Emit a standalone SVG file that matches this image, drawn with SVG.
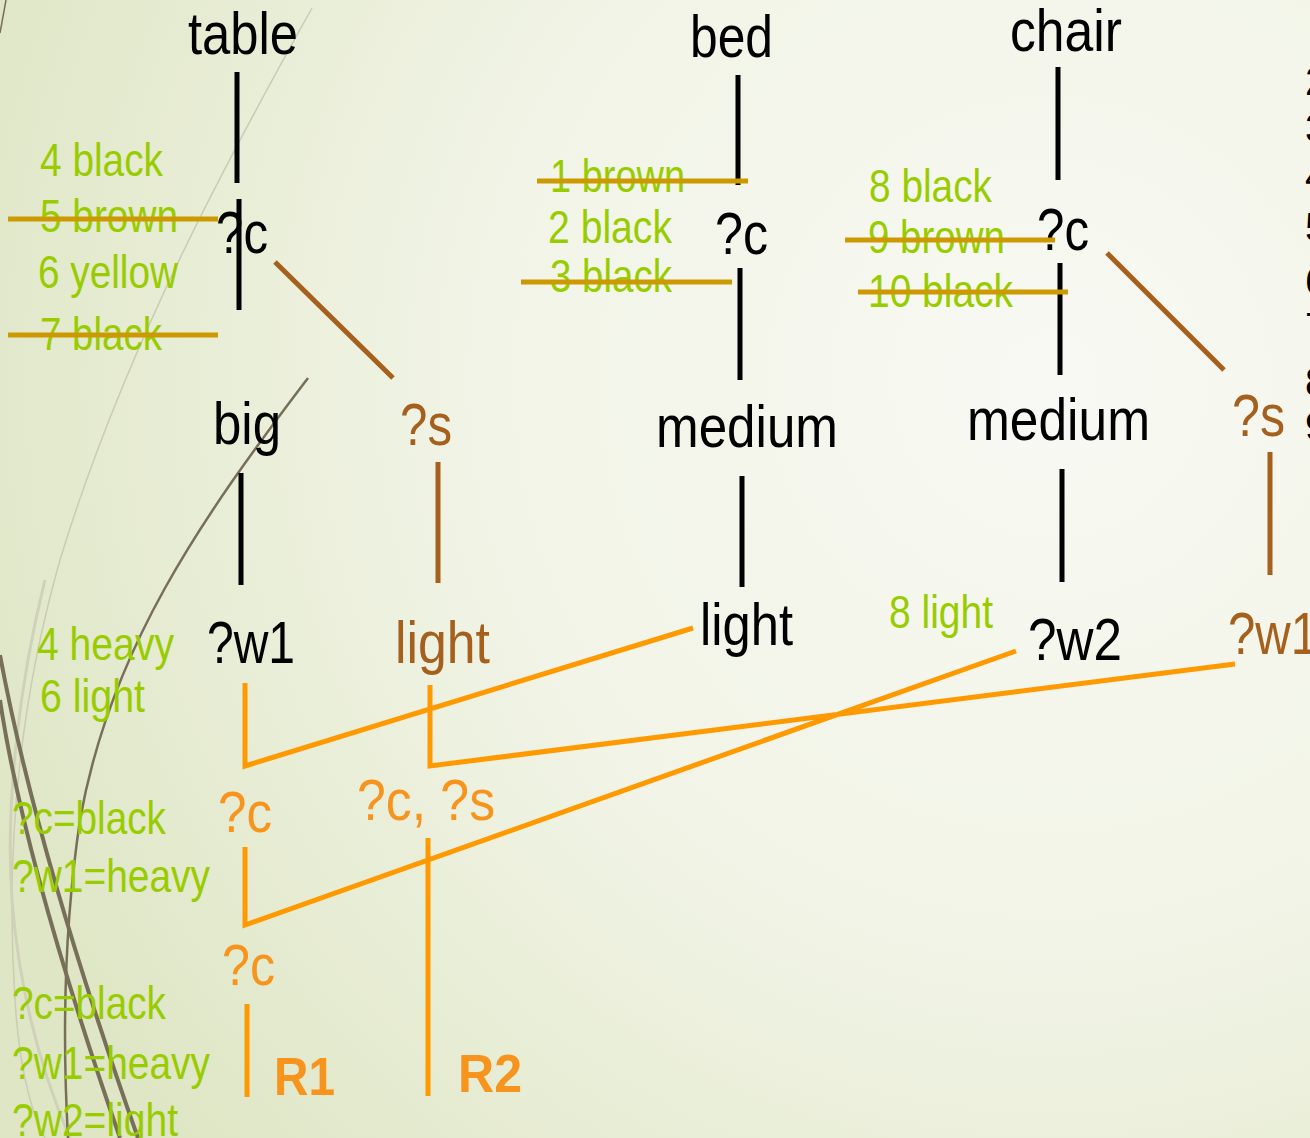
<svg xmlns="http://www.w3.org/2000/svg" width="1310" height="1138" viewBox="0 0 1310 1138">
<defs>
<radialGradient id="bg" cx="1050" cy="380" r="1150" gradientUnits="userSpaceOnUse">
<stop offset="0" stop-color="#f8f9f3"/>
<stop offset="0.5" stop-color="#f1f4e6"/>
<stop offset="1" stop-color="#dfe6c5"/>
</radialGradient>
<style>
text{font-family:"Liberation Sans",Arial,sans-serif}
.k{font-size:60px;fill:#000}
.b{font-size:60px;fill:#a5601d}
.g{font-size:46px;fill:#99cc00}
.o{font-size:58px;fill:#f7941d}
.r{font-size:54px;font-weight:bold;fill:#f7941d}
.lk{stroke:#000;stroke-width:5;fill:none}
.lb{stroke:#a5601d;stroke-width:5;fill:none}
.lo{stroke:#ff9900;stroke-width:5;fill:none}
.ls{stroke:#cc9900;stroke-width:5;fill:none}
.deco{fill:none;stroke:#776f58}
</style>
</defs>
<rect width="1310" height="1138" fill="url(#bg)"/>
<g id="decoration">
<path d="M312,8 C250,120 130,330 60,560 C20,700 5,850 15,1000 C20,1080 35,1120 45,1138" stroke="#cccbb6" stroke-width="1.5" fill="none"/>
<path d="M45,580 C20,680 5,800 12,900 C20,1000 45,1080 70,1138" stroke="#cfd2b8" stroke-width="3" fill="none"/>
<path d="M0,33 L6,0" class="deco" stroke-width="1.5"/>
<path d="M308,378 C200,520 110,650 80,820 C65,920 62,1030 68,1138" class="deco" stroke-width="2.5"/>
<path d="M0,655 C25,790 75,960 138,1138" class="deco" stroke-width="4"/>
<path d="M0,700 C18,820 65,980 120,1138" class="deco" stroke-width="4"/>
</g>
<g id="connectors">
<path class="lk" d="M237,72V183M239,199V310M738,75V185M740,268V380M1058,67V180M1060,263V375M241,473V585M742,476V587M1062,469V582"/>
<path class="lb" d="M275,262L393,378M438,462V583M1107,253L1224,370M1270,452V575"/>
<path class="lo" d="M245,683V766L693,628M430,685V766L1235,664M245,847V925L1016,651M247,1004V1097M428,838V1096"/>
</g>
<g id="node-table"><text class="k" x="188" y="54" textLength="110" lengthAdjust="spacingAndGlyphs">table</text></g>
<g id="node-bed"><text class="k" x="690" y="57" textLength="83" lengthAdjust="spacingAndGlyphs">bed</text></g>
<g id="node-chair"><text class="k" x="1010" y="51" textLength="112" lengthAdjust="spacingAndGlyphs">chair</text></g>
<g id="node-table-c"><text class="k" x="216" y="253" textLength="52" lengthAdjust="spacingAndGlyphs">?c</text></g>
<g id="node-bed-c"><text class="k" x="715" y="254" textLength="53" lengthAdjust="spacingAndGlyphs">?c</text></g>
<g id="node-chair-c"><text class="k" x="1037" y="250" textLength="52" lengthAdjust="spacingAndGlyphs">?c</text></g>
<g id="node-big"><text class="k" x="213" y="444" textLength="68" lengthAdjust="spacingAndGlyphs">big</text></g>
<g id="node-table-s"><text class="b" x="400" y="445" textLength="52" lengthAdjust="spacingAndGlyphs">?s</text></g>
<g id="node-bed-medium"><text class="k" x="656" y="447" textLength="182" lengthAdjust="spacingAndGlyphs">medium</text></g>
<g id="node-chair-medium"><text class="k" x="967" y="440" textLength="183" lengthAdjust="spacingAndGlyphs">medium</text></g>
<g id="node-chair-s"><text class="b" x="1232" y="436" textLength="53" lengthAdjust="spacingAndGlyphs">?s</text></g>
<g id="node-w1"><text class="k" x="207" y="663" textLength="88" lengthAdjust="spacingAndGlyphs">?w1</text></g>
<g id="node-light-brown"><text class="b" x="395" y="663" textLength="95" lengthAdjust="spacingAndGlyphs">light</text></g>
<g id="node-light-black"><text class="k" x="700" y="645" textLength="93" lengthAdjust="spacingAndGlyphs">light</text></g>
<g id="node-w2"><text class="k" x="1028" y="660" textLength="94" lengthAdjust="spacingAndGlyphs">?w2</text></g>
<g id="node-w1-brown"><text class="b" x="1228" y="654" textLength="90" lengthAdjust="spacingAndGlyphs">?w1</text></g>
<g id="node-join-c1"><text class="o" x="218" y="832" textLength="54" lengthAdjust="spacingAndGlyphs">?c</text></g>
<g id="node-join-cs"><text class="o" x="357" y="820" textLength="138" lengthAdjust="spacingAndGlyphs">?c, ?s</text></g>
<g id="node-join-c2"><text class="o" x="222" y="985" textLength="53" lengthAdjust="spacingAndGlyphs">?c</text></g>
<g id="node-R1"><text class="r" x="274" y="1095" textLength="61" lengthAdjust="spacingAndGlyphs">R1</text></g>
<g id="node-R2"><text class="r" x="458" y="1092" textLength="64" lengthAdjust="spacingAndGlyphs">R2</text></g>
<g id="annotations">
<text class="g" x="40" y="176" textLength="123" lengthAdjust="spacingAndGlyphs">4 black</text>
<text class="g" x="40" y="232" textLength="138" lengthAdjust="spacingAndGlyphs">5 brown</text>
<text class="g" x="38" y="288" textLength="140" lengthAdjust="spacingAndGlyphs">6 yellow</text>
<text class="g" x="40" y="350" textLength="122" lengthAdjust="spacingAndGlyphs">7 black</text>
<text class="g" x="550" y="192" textLength="135" lengthAdjust="spacingAndGlyphs">1 brown</text>
<text class="g" x="548" y="243" textLength="124" lengthAdjust="spacingAndGlyphs">2 black</text>
<text class="g" x="550" y="292" textLength="122" lengthAdjust="spacingAndGlyphs">3 black</text>
<text class="g" x="869" y="202" textLength="123" lengthAdjust="spacingAndGlyphs">8 black</text>
<text class="g" x="868" y="253" textLength="137" lengthAdjust="spacingAndGlyphs">9 brown</text>
<text class="g" x="868" y="307" textLength="145" lengthAdjust="spacingAndGlyphs">10 black</text>
<text class="g" x="37" y="660" textLength="137" lengthAdjust="spacingAndGlyphs">4 heavy</text>
<text class="g" x="40" y="712" textLength="105" lengthAdjust="spacingAndGlyphs">6 light</text>
<text class="g" x="889" y="628" textLength="104" lengthAdjust="spacingAndGlyphs">8 light</text>
<text class="g" x="12" y="834" textLength="154" lengthAdjust="spacingAndGlyphs">?c=black</text>
<text class="g" x="12" y="892" textLength="198" lengthAdjust="spacingAndGlyphs">?w1=heavy</text>
<text class="g" x="12" y="1019" textLength="154" lengthAdjust="spacingAndGlyphs">?c=black</text>
<text class="g" x="12" y="1079" textLength="198" lengthAdjust="spacingAndGlyphs">?w1=heavy</text>
<text class="g" x="12" y="1136" textLength="166" lengthAdjust="spacingAndGlyphs">?w2=light</text>
</g>
<g id="strikes">
<path class="ls" d="M8,219H218M8,335H218M537,181H748M521,282H732M845,240H1055M858,292H1068"/>
</g>
<g id="edge-list" font-size="40" fill="#000">
<text x="1305" y="95">2</text>
<text x="1305" y="142">3</text>
<text x="1305" y="190">4</text>
<text x="1305" y="241">5</text>
<text x="1305" y="295">6</text>
<text x="1305" y="341">7</text>
<text x="1305" y="396">8</text>
<text x="1305" y="440">9</text>
</g>
</svg>
